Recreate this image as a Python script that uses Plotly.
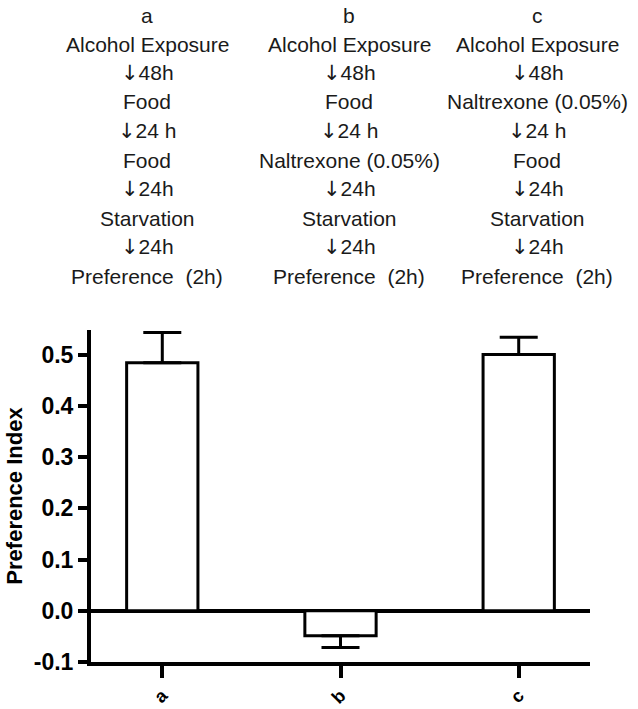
import plotly.graph_objects as go

categories = ["a", "b", "c"]
values = [0.484, -0.0486, 0.500]
err_up = [0.059, 0.0, 0.034]
err_down = [0.0, 0.023, 0.0]

y_ticks = [-0.1, 0.0, 0.1, 0.2, 0.3, 0.4, 0.5]
y_ticklabels = ["-0.1", "0.0", "0.1", "0.2", "0.3", "0.4", "0.5"]

ARROW = "↓"
col_a = ["a", "Alcohol Exposure", ARROW + "48h", "Food", ARROW + "24 h", "Food", ARROW + "24h", "Starvation", ARROW + "24h", "Preference  (2h)"]
col_b = ["b", "Alcohol Exposure", ARROW + "48h", "Food", ARROW + "24 h", "Naltrexone (0.05%)", ARROW + "24h", "Starvation", ARROW + "24h", "Preference  (2h)"]
col_c = ["c", "Alcohol Exposure", ARROW + "48h", "Naltrexone (0.05%)", ARROW + "24 h", "Food", ARROW + "24h", "Starvation", ARROW + "24h", "Preference  (2h)"]

W, H = 638, 709
L, R, T, B = 91, 48, 330, 47
PW, PH = W - L - R, H - T - B

fig = go.Figure()
fig.add_trace(go.Bar(
    x=categories, y=values, width=0.4,
    marker=dict(color="white", line=dict(color="black", width=3)),
    error_y=dict(type="data", symmetric=False, array=err_up, arrayminus=err_down,
                 color="black", thickness=3, width=19),
    showlegend=False,
))


def fmt(txt):
    if txt.startswith(ARROW):
        return '<span style="font-family:DejaVu Sans">' + ARROW + "</span>" + txt[len(ARROW):]
    return txt


col_x = [147, 349, 537]
row_y = [15, 44, 73, 102, 131, 160, 189, 218, 247, 276]
annotations = []
for cx, col in zip(col_x, [col_a, col_b, col_c]):
    for ry, txt in zip(row_y, col):
        annotations.append(dict(
            text=fmt(txt), xref="paper", yref="paper",
            x=(cx - L) / PW, y=(H - B - ry) / PH,
            xanchor="center", yanchor="middle", showarrow=False,
            font=dict(family="Liberation Sans", size=21, color="#1a1a1a"),
        ))

fig.update_layout(
    width=W, height=H,
    margin=dict(l=L, r=R, t=T, b=B, pad=0, autoexpand=False),
    paper_bgcolor="white", plot_bgcolor="white",
    annotations=annotations,
    xaxis=dict(
        range=[-0.4, 2.4], showline=True, linecolor="black", linewidth=4,
        ticks="outside", ticklen=12, tickwidth=4, tickcolor="black",
        tickangle=-45, showgrid=False, zeroline=False, automargin=False,
        tickfont=dict(family="Liberation Sans", size=18, color="black", weight=700),
    ),
    yaxis=dict(
        range=[-0.1, 0.548], showline=True, linecolor="black", linewidth=4,
        ticks="outside", ticklen=9, tickwidth=4, tickcolor="black",
        tickvals=y_ticks, ticktext=y_ticklabels, showgrid=False, automargin=False,
        zeroline=True, zerolinecolor="black", zerolinewidth=4,
        tickfont=dict(family="Liberation Sans", size=23, color="black", weight=700),
        title=dict(text="Preference Index", standoff=6,
                   font=dict(family="Liberation Sans", size=22, color="black", weight=700)),
    ),
)

fig.write_html(
    "out.html",
    config={"displayModeBar": False},
    post_script="document.body.style.margin='0';document.body.style.overflow='hidden';",
)
